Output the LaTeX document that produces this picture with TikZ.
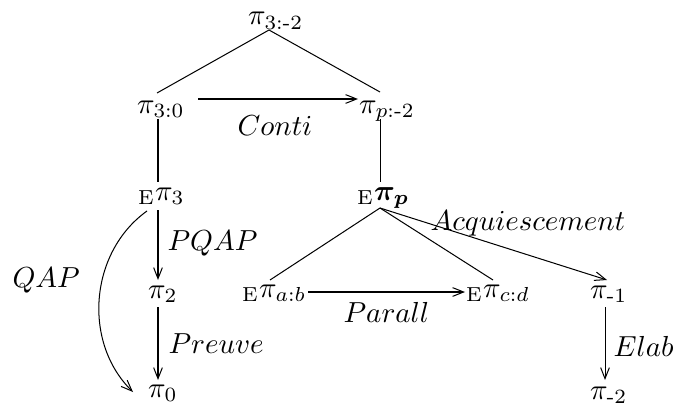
\documentclass[tikz,border=0pt]{standalone}
\usepackage{amsmath}
\usetikzlibrary{calc,arrows.meta}
\tikzset{
  pinode/.style={inner sep=0pt, outer sep=0pt, anchor=base west},
  lbl/.style={inner sep=0pt, anchor=base west},
  link/.style={line width=0.35pt},
  arr/.style={line width=0.35pt, -{Straight Barb[length=3.8pt,width=3pt]}},
}
\begin{document}
\begin{tikzpicture}[x=0.345pt, y=-0.345pt]
\useasboundingbox (0,0) rectangle (677,407);
% nodes
\node[pinode] (t) at (248,25) {$\pi_{3:\text{-}2}$};
\node[pinode] (a) at (137,113) {$\pi_{3:0}$};
\node[pinode] (b) at (359,113) {$\pi_{p:\text{-}2}$};
\node[pinode] (c) at (138,200) {${}_{\mathrm{E}}\pi_3$};
\node[pinode] (d) at (357,200) {${}_{\mathrm{E}}\boldsymbol{\pi_p}$};
\node[pinode] (e) at (148,298) {$\pi_2$};
\node[pinode] (f) at (148,397) {$\pi_0$};
\node[pinode] (g) at (242,297) {${}_{\mathrm{E}}\pi_{a:b}$};
\node[pinode] (h) at (466,297) {${}_{\mathrm{E}}\pi_{c:d}$};
\node[pinode] (i) at (590,298) {$\pi_{\text{-}1}$};
\node[pinode] (j) at (590,399) {$\pi_{\text{-}2}$};
% connectors
\draw[link] ($(t.base west)+(21,5)$) -- ($(a.base west)+(20,-20)$);
\draw[link] ($(t.base west)+(21,5)$) -- ($(b.base west)+(21,-21)$);
\draw[arr] ($(a.base west)+(61,-14)$) -- ($(b.base west)+(-1,-14)$);
\draw[link] ($(a.base west)+(21,6)$) -- ($(c.base west)+(20,-18)$);
\draw[link] ($(b.base west)+(21,6)$) -- ($(d.base west)+(23,-18)$);
\draw[arr] ($(c.base west)+(20,10)$) -- ($(e.base west)+(10,-18)$);
\draw[arr] ($(e.base west)+(10,9)$) -- ($(f.base west)+(10,-17)$);
\draw[arr] ($(c.base west)+(9,11)$) to[bend right=50] ($(f.base west)+(-15,-5)$);
\draw[link] ($(d.base west)+(23,8)$) -- ($(g.base west)+(28,-17)$);
\draw[link] ($(d.base west)+(23,8)$) -- ($(h.base west)+(27,-17)$);
\draw[arr] ($(d.base west)+(23,8)$) -- ($(i.base west)+(17,-18)$);
\draw[arr] ($(g.base west)+(66,-5)$) -- ($(h.base west)+(-1,-5)$);
\draw[arr] ($(i.base west)+(15,9)$) -- ($(j.base west)+(15,-19)$);
% labels
\node[lbl] (lconti) at (237,135) {$Conti$};
\node[lbl] (lpqap) at (167,250) {$PQAP$};
\node[lbl] (lqap) at (12,287) {$QAP$};
\node[lbl] (lpreuve) at (168,353) {$Preuve$};
\node[lbl] (lparall) at (343,322) {$Parall$};
\node[lbl] (lacq) at (430,230) {$Acquiescement$};
\node[lbl] (lelab) at (613,356) {$Elab$};
\end{tikzpicture}
\end{document}
